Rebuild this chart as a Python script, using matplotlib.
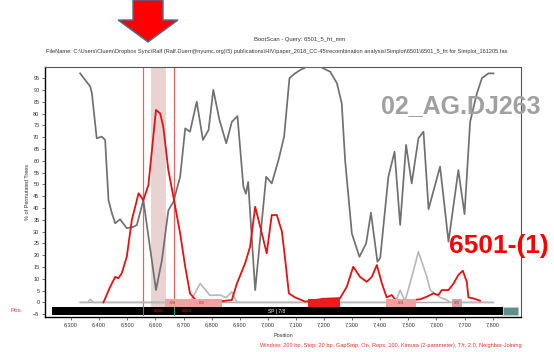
import matplotlib
matplotlib.use("Agg")
import matplotlib.pyplot as plt
from matplotlib.patches import Polygon, Rectangle

# ---------------- data ----------------
gray_x = [6332, 6368, 6374, 6391, 6409, 6421, 6433, 6445, 6457, 6474, 6498, 6522, 6534,
          6557, 6602, 6623, 6646, 6664, 6688, 6706, 6723, 6747, 6769, 6789, 6806, 6828,
          6852, 6872, 6892, 6913, 6922, 6930, 6955, 6994, 7014, 7038, 7058, 7077, 7097,
          7115, 7139, 7186, 7222, 7246, 7263, 7275, 7299, 7326, 7350, 7367, 7390, 7400,
          7429, 7451, 7471, 7492, 7512, 7536, 7554, 7572, 7613, 7643, 7678, 7700, 7720,
          7744, 7762, 7785, 7803]
gray_y = [97, 91.4, 88.5, 69.5, 70.2, 68.8, 43.3, 37.8, 33.5, 35.2, 31.4, 32, 32.8,
          43.3, 5.2, 17.9, 39, 42.6, 53.2, 73.7, 72.3, 85, 68.8, 73, 90, 77.2,
          67.4, 76.5, 78.9, 49, 46, 51, 5.2, 53.2, 50.4, 60.3, 70.2, 95, 97,
          98.4, 99.8, 99.8, 97.7, 92.8, 84.3, 60.3, 29.2, 19.3, 25, 38, 17.2, 18.8,
          53.2, 63.8, 32.8, 66.7, 50.4, 69.5, 72.3, 39.5, 57.5, 25.7, 56, 37.4, 76.5,
          88.5, 95, 97, 97]

red_x = [6415, 6439, 6457, 6468, 6480, 6498, 6516, 6528, 6540, 6557, 6575, 6602, 6617,
         6628, 6646, 6664, 6688, 6706, 6723, 6747, 6800, 6872, 6890, 6919, 6937, 6955,
         6973, 6996, 7014, 7032, 7050, 7060, 7075, 7097, 7133, 7195, 7257, 7281, 7304,
         7328, 7352, 7370, 7388, 7406, 7423, 7441, 7459, 7542, 7566, 7589, 7607, 7619,
         7643, 7661, 7678, 7694, 7708, 7714, 7731, 7755]
red_y = [0, 6.6, 10.8, 10.2, 12.3, 19.3, 34.9, 40.5, 46.2, 43.3, 49.7, 81.5, 80,
         74.4, 56, 44.7, 29.2, 15.1, 3.8, 0.5, 0, 1, 8, 16.5, 23.6, 40.5,
         32, 20.8, 37, 37, 30, 20, 3.8, 2.1, 0.3, 1.5, 1.8, 6.6, 15.1,
         10.8, 8.7, 10.8, 15.8, 8, 2.1, 3.1, 0.3, 1.3, 2.4, 3.8, 3.1, 5.2,
         5.2, 8, 11.6, 13.4, 8.7, 2.1, 1.7, 0.7]

lgray_x = [6332, 6360, 6368, 6378, 6723, 6759, 6780, 6794, 6830, 6852, 6872, 6890,
           7453, 7471, 7488, 7506, 7536, 7566, 7578, 7613, 7637, 7648, 7802]
lgray_y = [0, 0, 1.3, 0, 0, 8, 5, 3, 3.1, 2, 4.5, 0,
           0, 5.2, 0.5, 8, 21.4, 10.8, 5.2, 2.1, 1, 0, 0]

base_x = [6332, 7802]
base_y = [0, 0]

breakpoints = [6557, 6665]
band = [6585, 6638]

seg_start = [6634, 6691, 7143, 7421, 7656]
seg_end = [6691, 6837, 7257, 7528, 7691]
seg_label = ["0/8", "0/2", "0/2", "5/4", "5/5"]
seg_color = ["#f3a0a0", "#f3a0a0", "#ee1c1c", "#f3a0a0", "#d9a0a0"]

xticks = [6300, 6400, 6500, 6600, 6700, 6800, 6900, 7000, 7100, 7200, 7300, 7400,
          7500, 7600, 7700, 7800]
yticks = list(range(-5, 100, 5))

# ---------------- figure ----------------
W, H = 554, 352
fig = plt.figure(figsize=(W / 100, H / 100), dpi=100)
plt.rcParams['font.family'] = ['Liberation Sans', 'DejaVu Sans']
ax = fig.add_axes([45 / W, 1 - 317 / H, (521 - 45) / W, (317 - 67) / H])
ax.set_xlim(6207, 7901)
ax.set_ylim(-6.2, 99.7)

# shaded band + breakpoint lines
ax.axvspan(band[0], band[1], ymin=(-2 + 6.2) / 105.9, ymax=1, color="#e8d2d2", lw=0, zorder=1)
for b in breakpoints:
    ax.plot([b, b], [-2, 99.7], color="#f06060", lw=0.9, zorder=2)

# curves
ax.plot(base_x, base_y, color="#a8a8a8", lw=1.0, zorder=3)
ax.plot(lgray_x, lgray_y, color="#b8b8b8", lw=1.2, zorder=3)
ax.plot(gray_x, gray_y, color="#707070", lw=1.25, zorder=4)
ax.plot(red_x, red_y, color="#e81010", lw=1.3, zorder=5)

# segment boxes
for s, e, lab, c in zip(seg_start, seg_end, seg_label, seg_color):
    ax.add_patch(Rectangle((s, -2.0), e - s, 3.3, facecolor=c, edgecolor="none", zorder=6))
    ax.text((s + e) / 2, -0.35, lab, fontsize=3.2, ha="center", va="center", color="#555555", zorder=7)

# black bar
ax.add_patch(Rectangle((6232, -5.4), 7837 - 6232, 3.3, facecolor="black", edgecolor="none", zorder=6))
ax.add_patch(Rectangle((7837, -5.4), 7890 - 7837, 3.3, facecolor="#5f8f8a", edgecolor="#cccccc", lw=0.4, zorder=6))
ax.text(7030, -3.75, "SP | 7/8", fontsize=3.5, color="white", ha="center", va="center", zorder=7)
for b in breakpoints:
    ax.plot([b, b], [-5.4, -2.1], color="#2e9e6e", lw=0.8, zorder=7)
ax.text(breakpoints[0] + 55, -3.75, "6556", fontsize=3.2, color="#e81010", ha="center", va="center", zorder=7)
ax.text(breakpoints[1] + 45, -3.75, "6666", fontsize=3.2, color="#e81010", ha="center", va="center", zorder=7)

# axes styling
ax.set_xticks(xticks)
ax.set_xticklabels([f"{v:,}" for v in xticks])
ax.set_yticks(yticks)
ax.tick_params(axis="both", labelsize=4, length=2, width=0.5, colors="#333333", pad=2)
for side in ["left", "bottom"]:
    ax.spines[side].set_color("black")
    ax.spines[side].set_linewidth(1.0)
for side in ["top", "right"]:
    ax.spines[side].set_color("#555555")
    ax.spines[side].set_linewidth(0.8)
ax.set_ylabel("% of Permutated Trees", fontsize=4, color="#333333", labelpad=2)
ax.set_xlabel("Position", fontsize=4, color="#333333", labelpad=4)

# texts
fig.text(300 / W, 1 - 40 / H, "BootScan - Query: 6501_5_frt_mm", fontsize=4.2, ha="center", va="center", color="#333333")
fig.text(277 / W, 1 - 52 / H,
         "FileName: C:\\Users\\Cluem\\Dropbox Sync\\Ralf (Ralf.Duerr@nyumc.org)\\5) publications\\HIV\\paper_2018_CC-45\\recombination analysis\\Simplot\\6501\\6501_5_frt for Simplot_161205.fas",
         fontsize=4.1, ha="center", va="center", color="#333333")
fig.text(16 / W, 1 - 311 / H, "Pos", fontsize=4.5, color="#e83030", ha="center", va="center")
fig.text(522 / W, 1 - 346 / H,
         "Window: 200 bp, Step: 20 bp, GapStrip: On, Reps: 100, Kimura (2-parameter), T/t: 2.0, Neighbor-Joining",
         fontsize=4.1, color="#e83030", ha="right", va="center")
fig.text(541 / W, 1 - 106 / H, "02_AG.DJ263", fontsize=18, fontweight="bold", color="#a0a0a0", ha="right", va="center")
fig.text(549 / W, 1 - 246 / H, "6501-(1)", fontsize=19, fontweight="bold", color="#ff0000", ha="right", va="center")

# red arrow
arrow_px = [(133, 0), (163, 0), (163, 20), (178, 20), (148, 42), (118, 20), (133, 20)]
arrow = Polygon([(x / W, 1 - y / H) for x, y in arrow_px], closed=True, transform=fig.transFigure,
                facecolor="#ff0000", edgecolor="#41719c", lw=1.0)
fig.patches.append(arrow)

fig.savefig("out.png", dpi=100)
